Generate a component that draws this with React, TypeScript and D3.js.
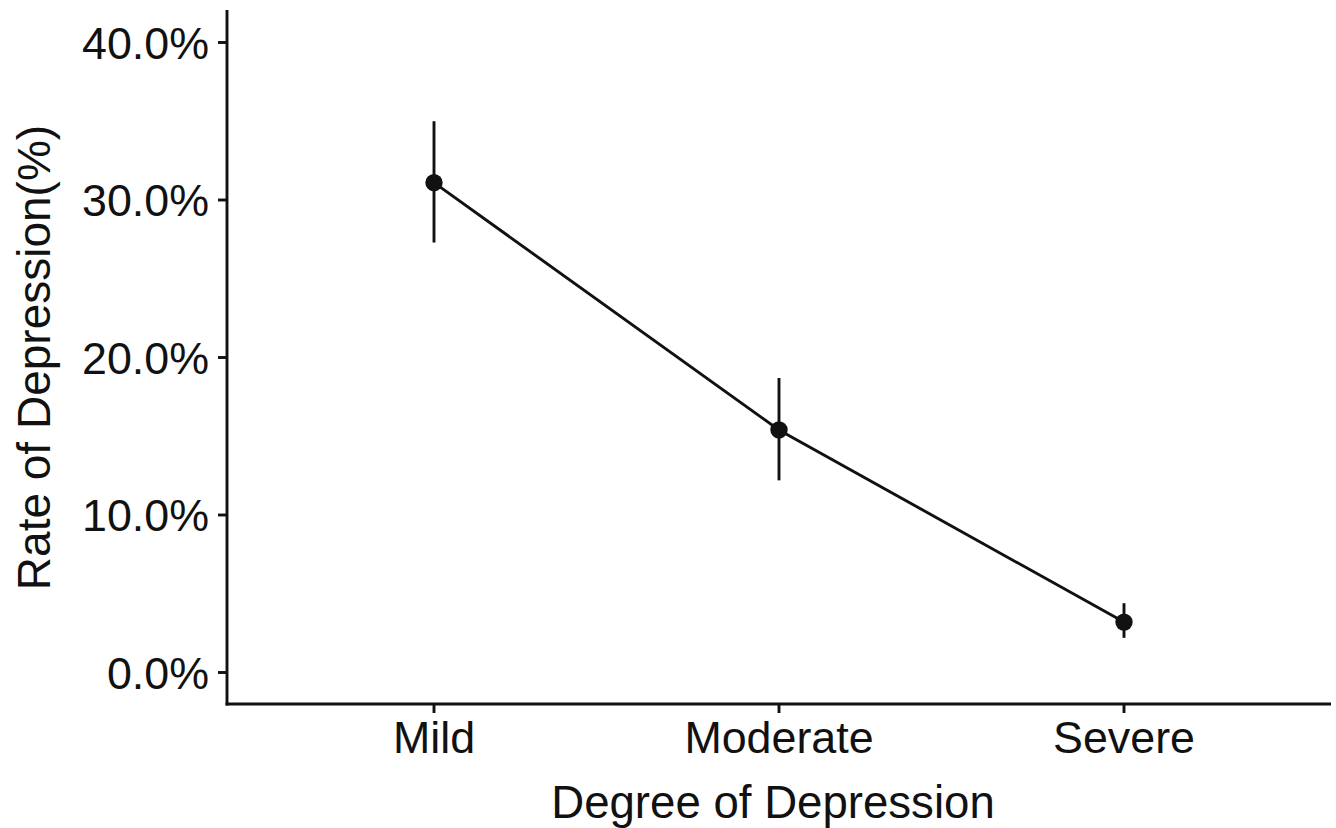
import React from "react";
import * as d3 from "d3";

// Data
const categories = ["Mild", "Moderate", "Severe"];
const rates = [31.1, 15.4, 3.2];
const lower = [27.3, 12.2, 2.2];
const upper = [35.0, 18.7, 4.4];
const yTicks = [0, 10, 20, 30, 40];

const width = 1336;
const height = 828;
const plot = { left: 227, right: 1331, top: 11, bottom: 704 };
const font = "'Liberation Sans', Arial, Helvetica, sans-serif";
const ink = "#111111";
const sw = 2.9;

const App: React.FC = () => {
  const x = d3
    .scalePoint<string>()
    .domain(categories)
    .range([plot.left, plot.right])
    .padding(0.6);
  const y = d3
    .scaleLinear()
    .domain([-2, 42])
    .range([plot.bottom, plot.top]);

  const points = categories.map((c, i) => ({
    cat: c,
    value: rates[i],
    lo: lower[i],
    hi: upper[i],
  }));

  const line = d3
    .line<(typeof points)[number]>()
    .x((d) => x(d.cat) ?? 0)
    .y((d) => y(d.value));

  return (
    <div style={{ position: "absolute", left: 0, top: 0 }}>
      <svg width={width} height={height} style={{ display: "block", background: "#fff" }}>
        {/* data line */}
        <path d={line(points) ?? ""} fill="none" stroke={ink} strokeWidth={sw} />

        {/* error bars */}
        {points.map((d) => (
          <line
            key={`err-${d.cat}`}
            x1={x(d.cat)}
            x2={x(d.cat)}
            y1={y(d.lo)}
            y2={y(d.hi)}
            stroke={ink}
            strokeWidth={sw}
          />
        ))}

        {/* points */}
        {points.map((d) => (
          <circle key={`pt-${d.cat}`} cx={x(d.cat)} cy={y(d.value)} r={8.7} fill={ink} />
        ))}

        {/* y axis */}
        <line x1={plot.left} x2={plot.left} y1={plot.top - 1} y2={plot.bottom + sw / 2} stroke={ink} strokeWidth={sw} />
        {yTicks.map((t) => (
          <g key={`yt-${t}`} transform={`translate(0,${y(t)})`}>
            <line x1={plot.left - 9} x2={plot.left} stroke={ink} strokeWidth={sw} />
            <text
              x={plot.left - 18}
              dy="0.36em"
              textAnchor="end"
              fontFamily={font}
              fontSize={44.8}
              fill={ink}
            >
              {`${t.toFixed(1)}%`}
            </text>
          </g>
        ))}

        {/* x axis */}
        <line x1={plot.left - sw / 2} x2={plot.right} y1={plot.bottom} y2={plot.bottom} stroke={ink} strokeWidth={sw} />
        {categories.map((c) => (
          <g key={`xt-${c}`} transform={`translate(${x(c)},0)`}>
            <line y1={plot.bottom} y2={plot.bottom + 9} stroke={ink} strokeWidth={sw} />
            <text
              y={753}
              textAnchor="middle"
              fontFamily={font}
              fontSize={44.8}
              fill={ink}
            >
              {c}
            </text>
          </g>
        ))}

        {/* axis titles */}
        <text
          x={773}
          y={818}
          textAnchor="middle"
          fontFamily={font}
          fontSize={45.6}
          fill={ink}
        >
          Degree of Depression
        </text>
        <text
          transform={`translate(50,${(plot.top + plot.bottom) / 2}) rotate(-90)`}
          textAnchor="middle"
          fontFamily={font}
          fontSize={46}
          fill={ink}
        >
          Rate of Depression(%)
        </text>
      </svg>
    </div>
  );
};

export default App;
